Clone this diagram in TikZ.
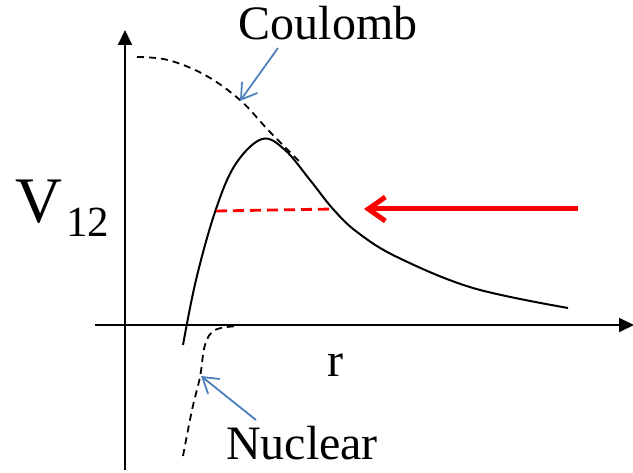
\documentclass[tikz,border=0pt]{standalone}
\usepackage{fontspec}
\setmainfont{Liberation Serif}
\usetikzlibrary{arrows.meta}
\definecolor{callout}{RGB}{79,129,189}
\begin{document}
\begin{tikzpicture}[x=1pt,y=-1pt,
  axis/.style={line width=2pt,-{Triangle[length=15pt,width=14pt]}},
  curve/.style={line width=2pt},
  pot/.style={line width=1.8pt,dash pattern=on 7pt off 5pt},
  reddash/.style={red,line width=2.8pt,dash pattern=on 11pt off 6pt},
  redarrow/.style={red,line width=5pt,-{Straight Barb[length=17pt,width=24pt,line width=5pt]}},
  callarrow/.style={callout,line width=1.8pt,-{Straight Barb[length=15pt,width=19pt,line width=1.8pt]}},
  lbl/.style={inner sep=0pt,font=\fontsize{48}{48}\selectfont}]
\useasboundingbox (0,0) rectangle (633,473);
% axes
\coordinate (ybot) at (125,470);
\coordinate (ytop) at (125,30);
\coordinate (xl) at (95,325);
\coordinate (xr) at (634,325);
\draw[axis] (ybot) -- (ytop);
\draw[axis] (xl) -- (xr);
% potential curve
\draw[curve] plot[smooth,tension=0.6] coordinates {(183,345) (196,280) (215,212) (235,165) (262,139) (285,150) (310,180) (333,209) (357,232) (397,257) (473,288) (568,308)};
% Coulomb dashed
\draw[pot] plot[smooth,tension=0.6] coordinates {(137,57) (168,60) (205,75) (240,100) (270,132) (302,164)};
% Nuclear dashed
\draw[pot] plot[smooth,tension=0.6] coordinates {(183,456) (192,410) (200,377) (205,345) (215,330) (238,326)};
% red dashed level
\coordinate (la) at (216,211);
\coordinate (lb) at (333,209);
\draw[reddash] (la) -- (lb);
% red arrow
\coordinate (ra) at (578,209);
\coordinate (rb) at (364,209);
\draw[redarrow] (ra) -- (rb);
% labels
\node[lbl,anchor=base] (coul) at (328,40) {Coulomb};
\node[lbl,anchor=base] (nuc) at (302,460) {Nuclear};
\node[lbl,anchor=base] (r) at (335,377) {r};
\node[inner sep=0pt,anchor=base west,font=\fontsize{65}{65}\selectfont] (v) at (15,223) {V};
\node[inner sep=0pt,anchor=base west,font=\fontsize{43}{43}\selectfont] (sub) at (66,237) {12};
% callout arrows
\coordinate (ca) at (278,48);
\coordinate (cb) at (240,101);
\draw[callarrow] (ca) -- (cb);
\coordinate (na) at (256,420);
\coordinate (nb) at (201,376);
\draw[callarrow] (na) -- (nb);
\end{tikzpicture}
\end{document}
